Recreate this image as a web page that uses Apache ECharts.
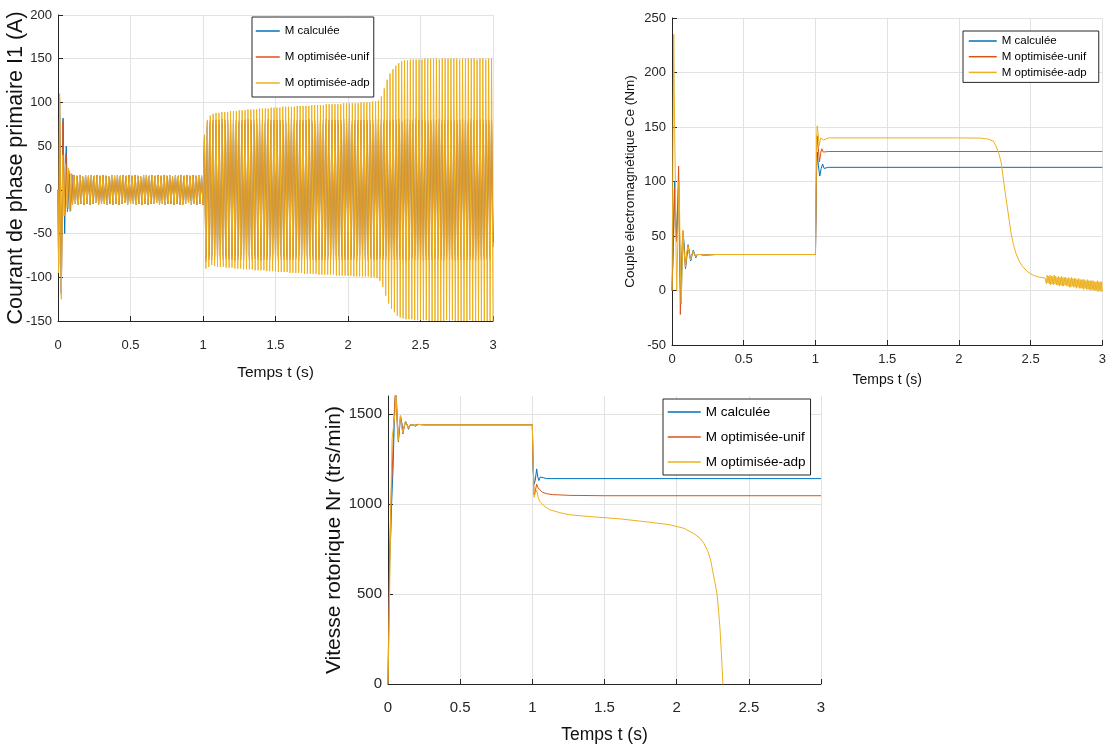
<!DOCTYPE html>
<html>
<head>
<meta charset="utf-8">
<script src="https://cdn.jsdelivr.net/npm/echarts@6/dist/echarts.min.js"></script>
<style>
html, body { margin: 0; padding: 0; background: #fff; }
#chart { width: 1109px; height: 747px; }
</style>
</head>
<body>
<div id="chart"></div>
<script>
var names = ['M calculée', 'M optimisée-unif', 'M optimisée-adp'];
var colors = ['#0072BD', '#D95319', '#EDB120'];
var xTicks = { min: 0, max: 3, interval: 0.5 };

// ---- courant I1 (A) : demarrage, [t, i]
var iStartCalc = [[0,0],[0.004,-85],[0.011,100],[0.023,-118],[0.035,82],[0.046,-50],[0.057,50],[0.067,-22],[0.077,18],[0.087,-24],[0.095,17],[0.1,-17]];
var iStartUnif = [[0,0],[0.004,-90],[0.011,105],[0.023,-120],[0.034,78],[0.045,-30],[0.055,42],[0.065,-25],[0.075,22],[0.085,-22],[0.095,18],[0.1,-17]];
var iStartAdp  = [[0,0],[0.004,-95],[0.011,110],[0.023,-125],[0.033,40],[0.042,-30],[0.052,30],[0.062,-20],[0.072,25],[0.082,-25],[0.09,19],[0.1,-17]];

// crêtes toutes les 0.01 s (demi-periode 50 Hz)
var PEAK_STEP = 0.01;
// 0.11 -> 1.00 s, les trois courbes confondues
var iNoLoad = [
  17,-16,16,-17,17,-16,15,-17,17,-16,
  16,-17,17,-16,16,-15,17,-17,16,-16,
  17,-16,16,-17,15,-16,17,-17,16,-16,
  17,-17,16,-16,17,-15,16,-17,17,-16,
  16,-16,17,-17,16,-16,15,-17,17,-16,
  17,-17,16,-16,17,-16,16,-15,17,-17,
  16,-16,17,-17,16,-16,17,-16,15,-17,
  17,-16,16,-17,17,-17,16,-16,17,-15,
  16,-17,17,-16,16,-17,17,-16,16,-17
];
// 1.01 -> 3.00 s
var iLoadCalc = [
  55,-78,72,-76,75,-75,76,-75,75,-76,
  75,-76,76,-75,75,-76,76,-76,75,-75,
  76,-75,75,-76,76,-75,75,-75,76,-76,
  75,-76,76,-75,75,-75,76,-76,75,-76,
  76,-75,75,-76,76,-76,75,-75,76,-75,
  75,-76,76,-75,75,-76,76,-76,75,-75,
  76,-75,75,-76,76,-75,75,-75,76,-76,
  75,-76,76,-75,75,-75,76,-76,75,-76,
  76,-75,75,-76,76,-76,75,-75,76,-75,
  75,-76,76,-75,75,-76,76,-76,75,-75,
  76,-75,75,-76,76,-75,75,-75,76,-76,
  75,-76,76,-75,75,-75,76,-76,75,-76,
  76,-75,75,-76,76,-76,75,-75,76,-75,
  75,-76,76,-75,75,-76,76,-76,75,-75,
  76,-75,75,-76,76,-75,75,-75,76,-76,
  75,-76,76,-75,75,-75,76,-76,75,-76,
  76,-75,75,-76,76,-76,75,-75,76,-75,
  75,-76,76,-75,75,-76,76,-76,75,-75,
  76,-75,75,-76,76,-75,75,-75,76,-76,
  75,-76,76,-75,75,-75,76,-76,75,-60
];
var iLoadUnif = [
  60,-82,78,-80,79,-80,80,-79,80,-80,
  80,-80,81,-80,80,-79,80,-80,81,-80,
  80,-81,80,-80,79,-80,80,-81,80,-80,
  81,-80,80,-80,80,-79,81,-80,80,-81,
  80,-80,79,-80,81,-80,80,-80,80,-79,
  80,-81,80,-80,80,-80,79,-80,81,-80,
  81,-80,80,-79,80,-81,80,-80,80,-80,
  80,-80,81,-80,79,-80,80,-81,80,-80,
  79,-80,80,-80,81,-80,80,-79,80,-81,
  80,-81,80,-80,80,-80,81,-80,79,-80,
  81,-80,79,-80,80,-81,80,-80,80,-80,
  80,-80,80,-81,80,-79,80,-80,81,-80,
  80,-79,81,-80,80,-80,80,-81,79,-80,
  80,-80,80,-80,81,-80,79,-80,80,-81,
  81,-80,80,-79,80,-80,81,-80,80,-80,
  80,-81,80,-80,79,-80,80,-80,81,-79,
  80,-80,81,-80,80,-81,80,-79,80,-80,
  79,-80,80,-81,80,-80,80,-80,81,-80,
  80,-80,79,-80,81,-80,80,-81,80,-80,
  81,-80,80,-80,80,-79,80,-80,80,-65
];
var iLoadAdp = [
  63,-90,80,-88,85,-86,87,-87,88,-88,
  88,-88,89,-88,89,-89,89,-89,90,-89,
  90,-90,90,-90,91,-90,91,-91,91,-91,
  92,-91,92,-91,92,-92,92,-92,93,-92,
  93,-92,93,-93,93,-93,94,-93,94,-93,
  94,-94,94,-94,95,-94,95,-94,95,-95,
  95,-95,95,-95,96,-95,96,-95,96,-96,
  96,-96,96,-96,97,-96,97,-96,97,-97,
  97,-97,97,-97,98,-97,98,-97,98,-97,
  98,-98,98,-98,98,-98,99,-98,99,-98,
  99,-98,99,-99,99,-99,99,-99,100,-99,
  100,-99,100,-99,100,-100,101,-100,101,-101,
  102,-104,107,-111,116,-121,126,-130,133,-136,
  138,-140,142,-144,145,-146,147,-147,148,-148,
  148,-148,149,-148,149,-149,149,-149,149,-149,
  149,-149,150,-149,150,-150,150,-150,150,-150,
  150,-150,149,-150,150,-150,150,-149,150,-150,
  150,-149,150,-150,150,-150,149,-150,150,-150,
  150,-150,150,-149,150,-150,150,-150,149,-150,
  150,-150,150,-150,149,-150,150,-150,150,-150
];

// ---- couple Ce (Nm), [t, Ce]
var ceCalc = [[0,0],[0.01,50],[0.018,100],[0.025,75],[0.032,48],[0.04,70],[0.046,100],[0.052,55],[0.058,5],[0.064,-12],[0.07,25],[0.078,52],[0.086,40],[0.094,20],[0.103,30],[0.112,42],[0.121,35],[0.13,27],[0.139,32],[0.148,37],[0.157,34],[0.166,30],[0.176,33],[0.186,34],[0.2,33],[0.22,32.5],[0.3,33],[1.0,33],[1.003,60],[1.008,110],[1.012,127],[1.02,115],[1.03,105],[1.04,112],[1.05,116],[1.06,112],[1.07,113.5],[1.09,113],[3,113]];
var ceUnif = [[0,0],[0.01,40],[0.018,95],[0.025,60],[0.032,45],[0.04,80],[0.046,114],[0.052,60],[0.058,-22],[0.064,10],[0.07,40],[0.076,55],[0.085,35],[0.094,21],[0.103,33],[0.112,41],[0.121,34],[0.13,28],[0.139,33],[0.148,36],[0.157,33],[0.166,31],[0.176,33],[0.186,34],[0.2,33],[0.22,32.5],[0.3,33],[1.0,33],[1.003,70],[1.008,125],[1.012,142],[1.02,130],[1.028,118],[1.036,126],[1.044,130],[1.054,127],[1.065,128],[1.09,127.5],[3,127.5]];
var ceAdp = [[0,0],[0.006,120],[0.012,235],[0.018,150],[0.024,95],[0.028,40],[0.033,0],[0.038,0],[0.043,60],[0.048,100],[0.053,70],[0.058,20],[0.064,-12],[0.07,20],[0.076,55],[0.085,35],[0.094,22],[0.103,35],[0.112,41],[0.121,33],[0.13,28],[0.139,33],[0.148,36],[0.157,33],[0.166,31],[0.176,33],[0.186,34],[0.2,33],[0.22,32.5],[0.3,33],[1.0,33],[1.003,80],[1.008,140],[1.012,151],[1.018,145],[1.026,133],[1.036,140],[1.046,141],[1.056,138],[1.066,139.5],[1.09,140],[2.0,140],[2.15,139.8],[2.2,139],[2.24,137],[2.26,132],[2.28,125],[2.295,117],[2.317,95],[2.34,74],[2.363,53],[2.38,42],[2.398,34],[2.42,27],[2.444,22],[2.48,17],[2.513,14.3],[2.55,12.5],[2.6,11.5]];
// ondulation 2.605 -> 3.000 s, pas 0.005 s
var RIPPLE_STEP = 0.005;
var ceAdpRipple = [
  13,6,14,7,13,6,14,5,13,6,
  13,5,14,6,13,5,12,5,13,4,
  12,5,13,4,12,4,12,5,12,4,
  11,4,12,3,11,3,12,4,11,3,
  11,3,11,2,10,3,11,2,10,2,
  10,2,10,1,10,2,9,1,10,1,
  9,1,9,0,9,1,9,0,8,0,
  8,0,9,-1,8,0,8,-1,8,-1
];

// ---- vitesse Nr (trs/min), [t, Nr]
var nrCalc = [[0,0],[0.005,300],[0.012,700],[0.02,850],[0.025,1000],[0.035,1200],[0.045,1500],[0.055,1640],[0.063,1500],[0.072,1345],[0.08,1420],[0.087,1490],[0.095,1450],[0.103,1390],[0.113,1430],[0.122,1460],[0.132,1440],[0.142,1415],[0.153,1440],[0.163,1450],[0.175,1440],[0.19,1432],[0.21,1442],[0.25,1440],[1.0,1440],[1.005,1200],[1.012,1110],[1.02,1130],[1.03,1195],[1.038,1150],[1.045,1130],[1.055,1150],[1.065,1142],[1.08,1145],[1.1,1141],[3,1141]];
var nrUnif = [[0,0],[0.006,400],[0.013,800],[0.022,1050],[0.03,1200],[0.04,1450],[0.05,1620],[0.058,1550],[0.066,1400],[0.072,1360],[0.08,1440],[0.087,1480],[0.095,1450],[0.103,1400],[0.113,1435],[0.122,1455],[0.132,1440],[0.142,1425],[0.153,1440],[0.165,1445],[0.18,1438],[0.21,1442],[0.25,1440],[1.0,1440],[1.005,1250],[1.012,1050],[1.02,1070],[1.03,1110],[1.04,1089],[1.07,1065],[1.1,1057],[1.14,1052],[1.26,1048],[1.5,1046],[3,1046]];
var nrAdp = [[0,0],[0.011,500],[0.02,1000],[0.028,1360],[0.04,1360],[0.048,1500],[0.055,1620],[0.062,1500],[0.07,1350],[0.077,1420],[0.085,1490],[0.093,1440],[0.102,1395],[0.112,1430],[0.121,1460],[0.131,1440],[0.141,1420],[0.152,1440],[0.163,1450],[0.175,1440],[0.19,1435],[0.21,1442],[0.25,1440],[1.0,1440],[1.005,1250],[1.012,1037],[1.02,1060],[1.03,1075],[1.04,1040],[1.05,1015],[1.08,990],[1.12,968],[1.2,950],[1.26,940],[1.4,930],[1.6,918],[1.8,900],[1.95,885],[2.05,865],[2.12,835],[2.16,811],[2.19,780],[2.216,737],[2.235,690],[2.25,626],[2.265,565],[2.28,496],[2.29,410],[2.3,311],[2.31,170],[2.32,5],[2.325,-100]];

function peaks(start, step, vals) {
    return vals.map(function (v, k) { return [+(start + k * step).toFixed(4), v]; });
}

var SANS = "'Liberation Sans', Arial, sans-serif";
var INK = '#262626';
var plain = function (v) { return String(v); };

function xAxisFor(grid, size, nameSize, labelMargin, nameGap) {
    return {
        gridIndex: grid, type: 'value', min: xTicks.min, max: xTicks.max, interval: xTicks.interval,
        name: 'Temps t (s)', nameLocation: 'middle', nameGap: nameGap,
        nameTextStyle: { fontFamily: SANS, fontSize: nameSize, color: '#111' },
        axisLine: { onZero: false, lineStyle: { color: INK, width: 1 } },
        axisTick: { inside: true, length: 5, lineStyle: { color: INK } },
        axisLabel: { fontFamily: SANS, fontSize: size, color: INK, margin: labelMargin, formatter: plain },
        splitLine: { show: true, lineStyle: { color: '#e2e2e2' } }
    };
}
function yAxisFor(grid, min, max, interval, name, nameSize, nameGap, size, extra) {
    var ax = {
        gridIndex: grid, type: 'value', min: min, max: max, interval: interval,
        name: name, nameLocation: 'middle', nameGap: nameGap, nameMoveOverlap: false,
        nameTextStyle: { fontFamily: SANS, fontSize: nameSize, color: '#111' },
        axisLine: { show: true, onZero: false, lineStyle: { color: INK, width: 1 } },
        axisTick: { show: true, inside: true, length: 5, lineStyle: { color: INK } },
        axisLabel: { fontFamily: SANS, fontSize: size, color: INK, margin: 6, formatter: plain },
        splitLine: { show: true, lineStyle: { color: '#e2e2e2' } }
    };
    if (extra) Object.keys(extra).forEach(function (k) { ax[k] = Object.assign({}, ax[k], extra[k]); });
    return ax;
}
function legendFor(left, top, padding, gap, w, h, size) {
    return {
        data: names, left: left, top: top, orient: 'vertical',
        backgroundColor: '#fff', borderColor: INK, borderWidth: 1, borderRadius: 0,
        padding: padding, itemGap: gap, itemWidth: w, itemHeight: h,
        itemStyle: { opacity: 0 },
        lineStyle: { width: 1.5 },
        textStyle: { fontFamily: SANS, fontSize: size, color: '#000' }
    };
}
function line(idx, name, data) {
    return {
        type: 'line', name: name, xAxisIndex: idx, yAxisIndex: idx, data: data,
        symbol: 'none', showSymbol: false, animation: false, sampling: null,
        color: colors[names.indexOf(name)],
        lineStyle: { width: 1 }
    };
}

var myChart = echarts.init(document.getElementById('chart'));
myChart.setOption({
    animation: false,
    backgroundColor: '#fff',
    grid: [
        { left: 58, top: 15, width: 435, height: 306 },
        { left: 672, top: 18, width: 435, height: 327 },
        { left: 388, top: 396, width: 433, height: 288 }
    ],
    xAxis: [
        xAxisFor(0, 13, 15.5, 18, 44),
        xAxisFor(1, 13, 14, 8, 28),
        xAxisFor(2, 15, 17.5, 16, 42)
    ],
    yAxis: [
        yAxisFor(0, -150, 200, 50, 'Courant de phase primaire I1 (A)', 21.5, 31, 13),
        yAxisFor(1, -50, 250, 50, 'Couple électromagnétique Ce (Nm)', 13.5, 35, 13),
        yAxisFor(2, 0, 1600, 500, 'Vitesse rotorique Nr (trs/min)', 21, 43, 15,
            { axisLabel: { showMaxLabel: false }, splitLine: { showMaxLine: false } })
    ],
    legend: [
        legendFor(252, 17, [8, 4, 8, 3], 14, 24, 14, 11.5),
        legendFor(963, 31, [4, 12, 4, 5], 3.7, 28, 12, 11.5),
        legendFor(663, 399, [6, 5, 6, 4], 11, 33, 16, 13.5)
    ],
    series: [
        line(0, names[0], iStartCalc.concat(peaks(0.11, PEAK_STEP, iNoLoad), peaks(1.01, PEAK_STEP, iLoadCalc))),
        line(0, names[1], iStartUnif.concat(peaks(0.11, PEAK_STEP, iNoLoad), peaks(1.01, PEAK_STEP, iLoadUnif))),
        line(0, names[2], iStartAdp.concat(peaks(0.11, PEAK_STEP, iNoLoad), peaks(1.01, PEAK_STEP, iLoadAdp))),
        line(1, names[0], ceCalc),
        line(1, names[1], ceUnif),
        line(1, names[2], ceAdp.concat(peaks(2.605, RIPPLE_STEP, ceAdpRipple))),
        line(2, names[0], nrCalc),
        line(2, names[1], nrUnif),
        line(2, names[2], nrAdp)
    ]
});
</script>
</body>
</html>
